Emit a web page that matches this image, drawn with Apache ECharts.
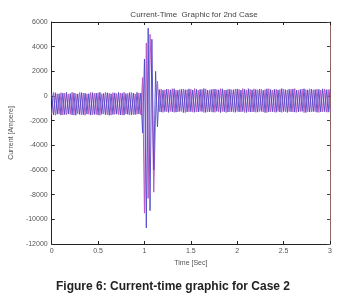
<!DOCTYPE html>
<html>
<head>
<meta charset="utf-8">
<script src="https://cdn.jsdelivr.net/npm/echarts@6/dist/echarts.min.js"></script>
<style>
  html, body { margin: 0; padding: 0; background: #fff; }
  #chart { width: 341px; height: 303px; }
</style>
</head>
<body>
<div id="chart"></div>
<script>
// sample spacing of the traces, seconds
const sampleStep = 0.02

const xTicks = ['0', '0.5', '1', '1.5', '2', '2.5', '3']
const yTicks = ['6000', '4000', '2000', '0', '-2000', '-4000', '-6000', '-8000', '-10000', '-12000']

// phase A (blue)
const currentA = [
  // before fault
  220, -1540, 260, -1480, 180, -1550, 240, -1510, 290, -1460, 200, -1530, 250, -1560, 170, -1490,
  280, -1520, 230, -1470, 190, -1550, 270, -1500, 240, -1540, 300, -1480, 210, -1520, 260, -1560,
  180, -1500, 250, -1470, 290, -1530, 220, -1550, 200, -1490, 270, -1520, 240, -1510, 300, -1460,
  230,
  // fault
  -3000, 3000, -10700, 5500, -9300, 4600, -6000, 2000, -2500,
  // after fault
  520, -1300, 480, -1260, 560, -1330, 500, -1280, 590, -1310, 470, -1250, 540, -1340, 510, -1290,
  580, -1270, 490, -1320, 550, -1300, 530, -1260, 600, -1330, 470, -1290, 520, -1310, 560, -1250,
  500, -1340, 580, -1280, 490, -1300, 540, -1270, 510, -1320, 570, -1290, 480, -1260, 550, -1330,
  590, -1300, 500, -1280, 530, -1310, 560, -1250, 470, -1340, 580, -1290, 520, -1270, 540, -1320,
  490, -1300, 600, -1260, 510, -1330, 550, -1280, 570, -1310, 480, -1290, 530, -1250, 590, -1340,
  500, -1300, 560, -1270, 520, -1320, 540, -1290, 580, -1260, 510, -1310, 550
]

// phase B (pink)
const currentB = [
  -1500, 300, -1560, 190, -1470, 270, -1540, 230, -1520, 160, -1490, 310, -1550, 200, -1450, 280,
  -1530, 240, -1560, 170, -1480, 290, -1520, 220, -1500, 260, -1570, 180, -1470, 300, -1530, 230,
  -1550, 270, -1490, 190, -1510, 250, -1540, 310, -1460, 210, -1550, 280, -1520, 170, -1480, 240,
  -1530,
  1500, -9500, 4300, -8300, 5000, 800, -7800, -1500, 1200,
  -1270, 560, -1330, 500, -1290, 540, -1250, 590, -1320, 480, -1300, 530, -1260, 570, -1340, 510,
  -1280, 550, -1310, 600, -1290, 470, -1250, 540, -1330, 580, -1300, 500, -1270, 560, -1320, 520,
  -1280, 590, -1260, 480, -1340, 550, -1290, 510, -1310, 570, -1250, 530, -1300, 600, -1330, 490,
  -1270, 540, -1290, 580, -1320, 500, -1260, 560, -1300, 520, -1340, 590, -1280, 470, -1310, 550,
  -1250, 530, -1330, 570, -1290, 500, -1270, 540, -1300, 600, -1320, 480, -1260, 560, -1340, 520,
  -1280, 580, -1300, 510, -1270, 550, -1330, 490, -1290, 570, -1310, 530, -1300
]

const toPoints = arr => arr.map((v, i) => [+(i * sampleStep).toFixed(2), v])

const labelFont = { fontFamily: 'Liberation Sans', fontSize: 7, color: '#555' }

const myChart = echarts.init(document.getElementById('chart'))
myChart.setOption({
  animation: false,
  backgroundColor: '#fff',
  title: [
    {
      text: 'Current-Time  Graphic for 2nd Case',
      left: 189,
      top: 6,
      textAlign: 'center',
      textStyle: { fontFamily: 'Liberation Sans', fontSize: 8, fontWeight: 'normal', color: '#444' }
    },
    {
      text: 'Figure 6: Current-time graphic for Case 2',
      left: 168,
      top: 276,
      textAlign: 'center',
      textStyle: { fontFamily: 'Liberation Sans', fontSize: 12, fontWeight: 'bold', color: '#222' }
    }
  ],
  grid: { left: 48, right: 11, top: 22, bottom: 59 },
  xAxis: [
    {
      type: 'value',
      min: 0,
      max: 3,
      interval: 0.5,
      name: 'Time [Sec]',
      nameLocation: 'middle',
      nameGap: 12,
      nameTextStyle: labelFont,
      axisLine: { onZero: false, lineStyle: { color: '#222', width: 1 } },
      axisTick: { inside: true, length: 3, lineStyle: { color: '#222' } },
      axisLabel: Object.assign({ margin: 4, formatter: (v, i) => xTicks[i] }, labelFont),
      splitLine: { show: false }
    },
    {
      type: 'value',
      position: 'top',
      min: 0,
      max: 3,
      interval: 0.5,
      axisLine: { onZero: false, lineStyle: { color: '#222', width: 1 } },
      axisTick: { inside: true, length: 3, lineStyle: { color: '#222' } },
      axisLabel: { show: false },
      splitLine: { show: false }
    }
  ],
  yAxis: [
    {
      type: 'value',
      min: -12000,
      max: 6000,
      interval: 2000,
      name: 'Current [Ampere]',
      nameLocation: 'middle',
      nameGap: 31,
      nameTextStyle: labelFont,
      axisLine: { show: true, onZero: false, lineStyle: { color: '#222', width: 1 } },
      axisTick: { show: true, inside: true, length: 3, lineStyle: { color: '#222' } },
      axisLabel: Object.assign({ margin: 4, formatter: (v, i) => yTicks[yTicks.length - 1 - i] }, labelFont),
      splitLine: { show: false }
    },
    {
      type: 'value',
      position: 'right',
      min: -12000,
      max: 6000,
      interval: 2000,
      axisLine: { show: true, onZero: false, lineStyle: { color: '#8f6460', width: 1 } },
      axisTick: { show: true, inside: true, length: 3, lineStyle: { color: '#444' } },
      axisLabel: { show: false },
      splitLine: { show: false }
    }
  ],
  series: [
    {
      type: 'line',
      data: toPoints(currentB),
      showSymbol: false,
      lineStyle: { color: '#b85cc6', width: 1 },
      z: 2
    },
    {
      type: 'line',
      data: toPoints(currentA),
      showSymbol: false,
      lineStyle: { color: '#4b48c8', width: 1, opacity: 0.9 },
      z: 3
    }
  ]
})
</script>
</body>
</html>
